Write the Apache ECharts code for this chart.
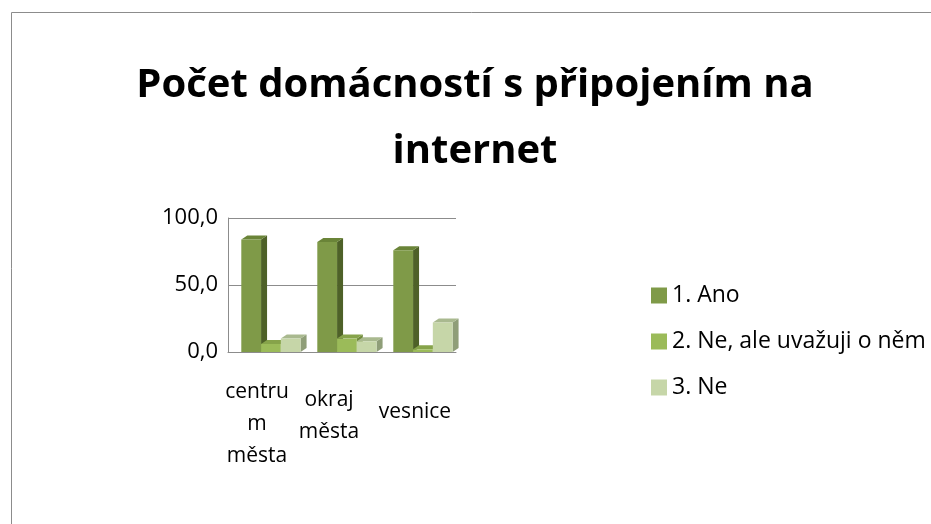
<!DOCTYPE html>
<html>
<head>
<meta charset="utf-8">
<script src="https://cdn.jsdelivr.net/npm/echarts@6/dist/echarts.min.js"></script>
<style>
  html, body { margin: 0; padding: 0; background: #fff; }
  #chart { width: 931px; height: 524px; }
</style>
</head>
<body>
<div id="chart"></div>
<script>
const categories = ["centru\nm\nměsta", "okraj\nměsta", "vesnice"];
const seriesNames = ["1. Ano", "2. Ne, ale uvažuji o něm", "3. Ne"];
const ano = [84.0, 82.0, 76.0];
const neAle = [6.0, 10.0, 2.0];
const ne = [10.0, 8.0, 22.0];
const yTicks = [0, 50, 100];

const colors = ["#7f9a48", "#9bbb59", "#c6d6a8"];
const sideColors = ["#4e6128", "#6f8a3a", "#8f9e78"];
const topColors = ["#6a8438", "#86a34a", "#a9b98f"];
// label nudges: Excel's perspective pushes later labels lower
const labelPad = [[0, 18, 0, 0], [8, 26, 0, 0], [20, 6, 0, 0]];

const fmt = v => v.toFixed(1).replace(".", ",");

// fake 3D column: front face + right side + top
function make3d(si) {
  return function (params, api) {
    const c = api.value(0);
    const v = api.value(1);
    const band = api.size([1, 0])[0];
    const w = band * 0.26;
    const dx = 6, dy = -4;
    const base = api.coord([c, 0]);
    const top = api.coord([c, v]);
    const x0 = base[0] - 1.25 * w + si * w;
    const x1 = x0 + w;
    const yb = base[1], yt = top[1];
    return {
      type: "group",
      children: [
        { type: "polygon", shape: { points: [[x1, yb], [x1 + dx, yb + dy], [x1 + dx, yt + dy], [x1, yt]] },
          style: { fill: sideColors[si] } },
        { type: "polygon", shape: { points: [[x0, yt], [x1, yt], [x1 + dx, yt + dy], [x0 + dx, yt + dy]] },
          style: { fill: topColors[si] } },
        { type: "rect", shape: { x: x0, y: yt, width: w, height: yb - yt },
          style: { fill: colors[si] } }
      ]
    };
  };
}

const chart = echarts.init(document.getElementById("chart"));
const seriesData = [ano, neAle, ne];
chart.setOption({
  animation: false,
  title: {
    text: "Počet domácností s připojením na\ninternet",
    left: 470, top: 48, textAlign: "center",
    textStyle: { fontFamily: "Open Sans", fontWeight: "bold", fontSize: 40, lineHeight: 66, color: "#000" }
  },
  graphic: [{
    type: "rect", left: 9, top: 10,
    shape: { width: 940, height: 540 },
    style: { fill: "none", stroke: "#8c8c8c", lineWidth: 1 }
  }],
  legend: {
    orient: "vertical", left: 646, top: 279, itemGap: 23,
    itemWidth: 16, itemHeight: 16, icon: "rect",
    data: seriesNames,
    textStyle: { fontFamily: "Open Sans", fontSize: 23, color: "#000" }
  },
  grid: { left: 228, top: 218, width: 228, height: 134, containLabel: false },
  xAxis: {
    type: "category",
    data: categories.map((c, i) => ({ value: c, textStyle: { padding: labelPad[i] } })),
    axisTick: { show: false },
    axisLine: { lineStyle: { color: "#8c8c8c" } },
    axisLabel: {
      interval: 0, margin: 24, color: "#000",
      fontFamily: "Open Sans", fontSize: 21, lineHeight: 32
    }
  },
  yAxis: {
    type: "value", min: 0, max: 100, interval: 50,
    axisLine: { show: true, lineStyle: { color: "#8c8c8c" } },
    axisTick: { show: false },
    splitLine: { lineStyle: { color: "#8c8c8c" } },
    axisLabel: {
      margin: 10, color: "#000", fontFamily: "Open Sans", fontSize: 22,
      formatter: v => yTicks.includes(v) ? fmt(v) : ""
    }
  },
  series: seriesNames.map((name, si) => ({
    name: name,
    type: "custom",
    itemStyle: { color: colors[si] },
    renderItem: make3d(si),
    encode: { x: 0, y: 1 },
    data: seriesData[si].map((v, i) => [i, v])
  }))
});
</script>
</body>
</html>
